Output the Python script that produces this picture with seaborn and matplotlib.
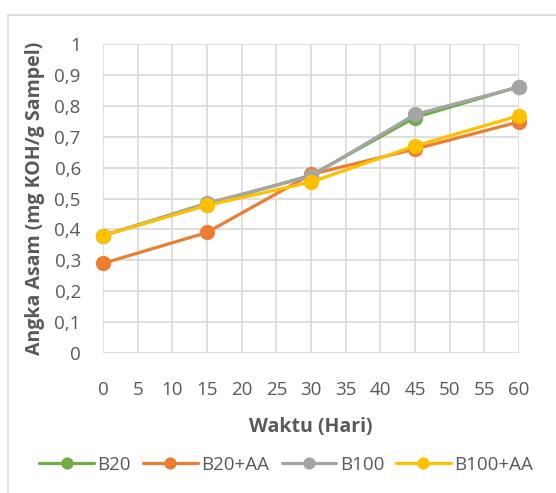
import matplotlib
matplotlib.use("Agg")
import matplotlib.pyplot as plt
import matplotlib.patches as mpatches
import pandas as pd
import seaborn as sns

# Storage time (days) and acid number for each fuel sample
hari = [0, 15, 30, 45, 60]
b20 = [0.38, 0.48, 0.575, 0.762, 0.862]
b20_aa = [0.29, 0.39, 0.578, 0.660, 0.748]
b100 = [0.38, 0.485, 0.572, 0.772, 0.861]
b100_aa = [0.38, 0.478, 0.553, 0.670, 0.768]

series_names = ["B20", "B20+AA", "B100", "B100+AA"]
series_values = [b20, b20_aa, b100, b100_aa]
colors = ["#70AD47", "#ED7D31", "#A5A5A5", "#FFC000"]

x_ticks = list(range(0, 61, 5))
y_ticks = [0, 0.1, 0.2, 0.3, 0.4, 0.5, 0.6, 0.7, 0.8, 0.9, 1.0]
y_tick_labels = ["0", "0,1", "0,2", "0,3", "0,4", "0,5", "0,6", "0,7", "0,8", "0,9", "1"]

df = pd.DataFrame(
    [(h, v, name) for name, vals in zip(series_names, series_values) for h, v in zip(hari, vals)],
    columns=["Hari", "Angka", "Sampel"],
)

sns.set_theme(style="white")
plt.rcParams["font.family"] = ["Open Sans", "DejaVu Sans"]
text_color = "#595959"
grid_color = "#D9D9D9"

fig = plt.figure(figsize=(5.56, 4.93), dpi=100)
ax = fig.add_axes([103 / 556, 1 - 353 / 493, (519 - 103) / 556, (353 - 44) / 493])

sns.lineplot(
    data=df, x="Hari", y="Angka", hue="Sampel", hue_order=series_names,
    palette=colors, marker="o", markersize=11, markeredgewidth=0,
    linewidth=2.3, ax=ax, legend=True,
)

ax.set_xlim(0, 60)
ax.set_ylim(0, 1)
ax.set_xticks(x_ticks)
ax.set_xticklabels([str(t) for t in x_ticks])
ax.set_yticks(y_ticks)
ax.set_yticklabels(y_tick_labels)
ax.grid(True, color=grid_color, linewidth=1.2)
ax.set_axisbelow(True)
for s in ax.spines.values():
    s.set_visible(False)
for line in ax.get_lines():
    line.set_clip_on(False)
ax.tick_params(axis="both", length=0, labelsize=13.5, colors=text_color)
ax.tick_params(axis="x", pad=20)
ax.tick_params(axis="y", pad=16)

ax.set_xlabel("Waktu (Hari)", fontsize=14, fontweight="bold", color=text_color, labelpad=13)
ax.set_ylabel("Angka Asam (mg KOH/g Sampel)", fontsize=14, fontweight="bold", color=text_color, labelpad=7)

handles, labels = ax.get_legend_handles_labels()
ax.legend_.remove()
fig.legend(
    handles, labels, loc="center", bbox_to_anchor=(0.515, 1 - 465 / 493), ncol=4,
    frameon=False, fontsize=13.5, handlelength=2.9, handletextpad=0.2,
    columnspacing=0.65, labelcolor=text_color, markerscale=0.8,
)

# chart-area border
fig.patches.append(mpatches.Rectangle(
    (8 / 556, -0.1), 1.2, 1 - 15 / 493 + 0.1, transform=fig.transFigure,
    fill=False, edgecolor=grid_color, linewidth=1.2,
))

fig.savefig("out.png", dpi=100)
